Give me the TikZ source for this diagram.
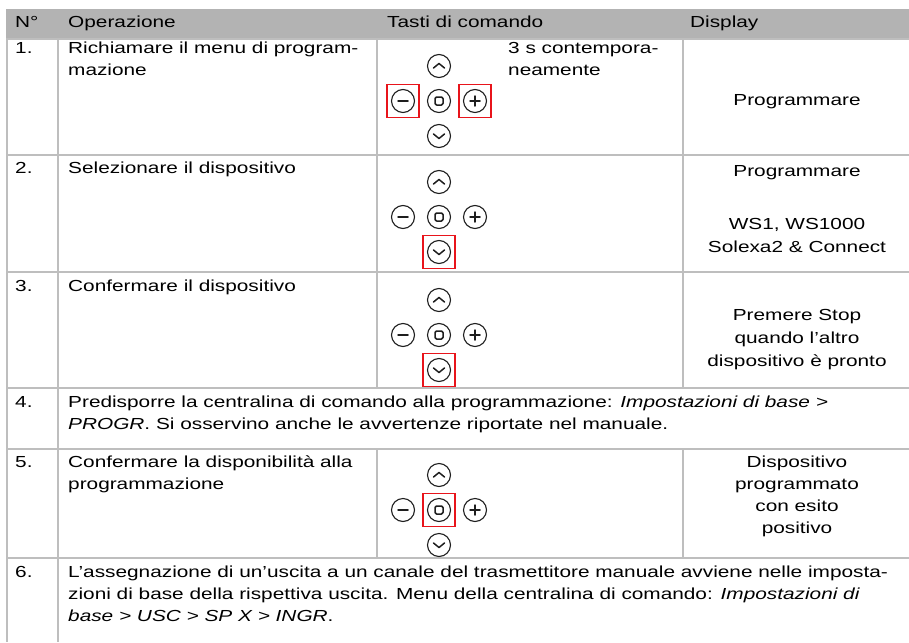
\documentclass[tikz,border=0pt]{standalone}
\usepackage{fontspec}
\setmainfont{Liberation Sans}[FakeStretch=1.3]
\definecolor{gridgray}{HTML}{BEBEBE}
\definecolor{headgray}{HTML}{B3B3B3}
\definecolor{icondark}{HTML}{1E1E1E}
\definecolor{hlred}{HTML}{E8141B}
\newcommand\fs{\fontsize{16}{22}\selectfont}
\tikzset{
  txt/.style={anchor=base west, inner sep=0pt, font=\fs},
  ctr/.style={anchor=base, inner sep=0pt, font=\fs},
  gridline/.style={draw=gridgray, line width=2.5pt},
  icon/.style={draw=icondark, line width=1.1pt},
  sym/.style={draw=icondark, line width=1.5pt, line cap=round, line join=round},
  hlbox/.style={draw=hlred, line width=1.7pt, minimum width=32pt, minimum height=33pt, inner sep=0pt},
  keypad/.pic={
    % up
    \draw[icon] (0,-35) circle (11.5pt);
    \draw[sym] (-5.5,-33) -- (0,-37.5) -- (5.5,-33);
    % down
    \draw[icon] (0,35) circle (11.5pt);
    \draw[sym] (-5.5,33) -- (0,37.5) -- (5.5,33);
    % minus
    \draw[icon] (-36,0) circle (11.5pt);
    \draw[sym] (-41,0) -- (-31,0);
    % plus
    \draw[icon] (36,0) circle (11.5pt);
    \draw[sym] (31,0) -- (41,0) (36,-5) -- (36,5);
    % stop
    \draw[icon] (0,0) circle (11.5pt);
    \draw[sym, rounded corners=1.5pt] (-4,-4) rectangle (4,4);
  }
}
\begin{document}
\begin{tikzpicture}[x=1pt,y=-1pt]
\useasboundingbox (0,0) rectangle (909,642);
\fill[white] (0,0) rectangle (909,642);
% header
\fill[headgray] (6,9) rectangle (909,38);
% grid
\draw[gridline] (6,39) -- (909,39);
\draw[gridline] (6,155) -- (909,155);
\draw[gridline] (6,272) -- (909,272);
\draw[gridline] (6,388) -- (909,388);
\draw[gridline] (6,449) -- (909,449);
\draw[gridline] (6,558) -- (909,558);
\draw[gridline] (7,38) -- (7,642);
\draw[gridline] (58,38) -- (58,642);
\draw[gridline] (377,38) -- (377,388) (377,449) -- (377,558);
\draw[gridline] (683,38) -- (683,388) (683,449) -- (683,558);
% header text
\node[txt] (hN) at (15,28) {N°};
\node[txt] (hOp) at (68,28) {Operazione};
\node[txt] (hTa) at (387,28) {Tasti di comando};
\node[txt] (hDi) at (690,28) {Display};
% row 1
\node[txt] (n1) at (15,53) {1.};
\node[txt] (o1a) at (68,53) {Richiamare il menu di program-};
\node[txt] (o1b) at (68,75) {mazione};
\pic (kp1) at (439,101) {keypad};
\node[hlbox] (r1a) at (403,101) {};
\node[hlbox] (r1b) at (475,101) {};
\node[txt] (t1a) at (508,53) {3 s contempora-};
\node[txt] (t1b) at (508,75) {neamente};
\node[ctr] (d1) at (797,105) {Programmare};
% row 2
\node[txt] (n2) at (15,173) {2.};
\node[txt] (o2) at (68,173) {Selezionare il dispositivo};
\pic (kp2) at (439,217) {keypad};
\node[hlbox] (r2) at (439,252) {};
\node[ctr] (d2a) at (797,176) {Programmare};
\node[ctr] (d2b) at (797,229) {WS1, WS1000};
\node[ctr] (d2c) at (797,252) {Solexa2 \& Connect};
% row 3
\node[txt] (n3) at (15,291) {3.};
\node[txt] (o3) at (68,291) {Confermare il dispositivo};
\pic (kp3) at (439,335) {keypad};
\node[hlbox] (r3) at (439,370) {};
\node[ctr] (d3a) at (797,320) {Premere Stop};
\node[ctr] (d3b) at (797,343) {quando l’altro};
\node[ctr] (d3c) at (797,366) {dispositivo è pronto};
% row 4
\node[txt] (n4) at (15,407) {4.};
\node[txt] (o4a) at (68,407) {Predisporre la centralina di comando alla programmazione: \textit{Impostazioni di base >}};
\node[txt] (o4b) at (68,429) {\textit{PROGR}. Si osservino anche le avvertenze riportate nel manuale.};
% row 5
\node[txt] (n5) at (15,467) {5.};
\node[txt] (o5a) at (68,467) {Confermare la disponibilità alla};
\node[txt] (o5b) at (68,489) {programmazione};
\pic (kp5) at (439,510) {keypad};
\node[hlbox] (r5) at (439,510) {};
\node[ctr] (d5a) at (797,467) {Dispositivo};
\node[ctr] (d5b) at (797,489) {programmato};
\node[ctr] (d5c) at (797,511) {con esito};
\node[ctr] (d5d) at (797,533) {positivo};
% row 6
\node[txt] (n6) at (15,577) {6.};
\node[txt] (o6a) at (68,577) {L’assegnazione di un’uscita a un canale del trasmettitore manuale avviene nelle imposta-};
\node[txt] (o6b) at (68,599) {zioni di base della rispettiva uscita. Menu della centralina di comando: \textit{Impostazioni di}};
\node[txt] (o6c) at (68,621) {\textit{base > USC > SP X > INGR}.};
\end{tikzpicture}
\end{document}
